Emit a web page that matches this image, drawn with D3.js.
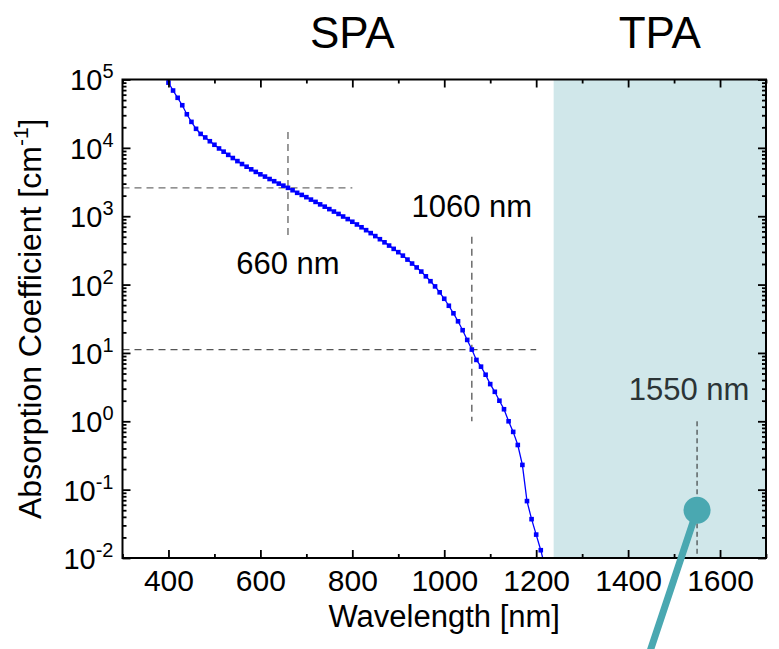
<!DOCTYPE html>
<html>
<head>
<meta charset="utf-8">
<script src="https://cdn.jsdelivr.net/npm/d3@7"></script>
<style>
  body { margin: 0; background: #fff; }
  svg { display: block; font-family: "Liberation Sans", Arial, sans-serif; }
</style>
</head>
<body>
<div id="chart"></div>
<script>
// silicon absorption (nm, cm^-1)
const wavelengths = [
  390, 400, 410, 420, 430, 440, 450, 460, 470, 480, 490,
  500, 510, 520, 530, 540, 550, 560, 570, 580, 590,
  600, 610, 620, 630, 640, 650, 660, 670, 680, 690,
  700, 710, 720, 730, 740, 750, 760, 770, 780, 790,
  800, 810, 820, 830, 840, 850, 860, 870, 880, 890,
  900, 910, 920, 930, 940, 950, 960, 970, 980, 990,
  1000, 1010, 1020, 1030, 1040, 1050, 1060, 1070, 1080, 1090,
  1100, 1110, 1120, 1130, 1140, 1150, 1160, 1170, 1180, 1190,
  1200, 1210, 1220
];
const absorption = [
  1.25e5, 9.0e4, 6.9e4, 5.4e4, 4.2e4, 3.1e4, 2.4e4, 1.9e4, 1.6e4, 1.42e4, 1.25e4,
  1.11e4, 9.8e3, 8.8e3, 7.9e3, 7.1e3, 6.4e3, 5.8e3, 5.3e3, 4.85e3, 4.45e3,
  4.1e3, 3.8e3, 3.5e3, 3.25e3, 3.0e3, 2.8e3, 2.6e3, 2.4e3, 2.2e3, 2.05e3,
  1.9e3, 1.75e3, 1.62e3, 1.49e3, 1.38e3, 1.27e3, 1.17e3, 1.08e3, 990, 908,
  830, 757, 689, 625, 566, 512, 461, 415, 372, 333,
  298, 265, 232, 203, 178, 155, 132, 112, 94, 77,
  62, 49, 38, 29, 21.5, 15.5, 11.2, 7.9, 6.3, 4.8,
  3.5, 2.7, 2.0, 1.5, 1.0, 0.7, 0.45, 0.23, 0.068, 0.037,
  0.022, 0.013, 0.007
];

const xMajorTicks = [400, 600, 800, 1000, 1200, 1400, 1600];
const xMinorTicks = [300, 500, 700, 900, 1100, 1300, 1500, 1700];
const yMajorTicks = [1e-2, 1e-1, 1e0, 1e1, 1e2, 1e3, 1e4, 1e5];

const spaLabel = "SPA", tpaLabel = "TPA";
const tpaStart = 1238;            // start of the shaded TPA band
const probeWavelength = 1550;     // 1550 nm lollipop
const probeValue = 0.05;

const MARGIN = { TOP: 79.5, BOTTOM: 91, LEFT: 122.5, RIGHT: 13 };
const WIDTH = 779 - MARGIN.LEFT - MARGIN.RIGHT,
  HEIGHT = 649 - MARGIN.TOP - MARGIN.BOTTOM;

const data = wavelengths.map((w, i) => ({ w: w, a: absorption[i] }));
const valueAt = (w) => absorption[wavelengths.indexOf(w)];

const svg = d3
  .select("#chart")
  .append("svg")
  .attr("width", 779)
  .attr("height", 649);

const g = svg
  .append("g")
  .attr("transform", `translate(${MARGIN.LEFT}, ${MARGIN.TOP})`);

const x = d3.scaleLinear().domain([300, 1700]).range([0, WIDTH]);
const y = d3.scaleLog().domain([1e-2, 1e5]).range([HEIGHT, 0]);

svg
  .append("defs")
  .append("clipPath")
  .attr("id", "plot-clip")
  .append("rect")
  .attr("width", WIDTH)
  .attr("height", HEIGHT);

// TPA band
g.append("rect")
  .attr("x", x(tpaStart))
  .attr("y", 0)
  .attr("width", WIDTH - x(tpaStart))
  .attr("height", HEIGHT)
  .attr("fill", "#d0e7ea");

/* ------- DASHED GUIDES -------*/
const guides = g.append("g").attr("fill", "none");

// 660 nm
guides
  .append("line")
  .attr("x1", 0)
  .attr("x2", x(800))
  .attr("y1", y(valueAt(660)))
  .attr("y2", y(valueAt(660)))
  .attr("stroke", "#6f6f6f")
  .attr("stroke-width", 1.4)
  .attr("stroke-dasharray", "7,5");
guides
  .append("line")
  .attr("x1", x(660))
  .attr("x2", x(660))
  .attr("y1", y(1.7e4))
  .attr("y2", y(480))
  .attr("stroke", "#6f6f6f")
  .attr("stroke-width", 1.4)
  .attr("stroke-dasharray", "7,5");

// 1060 nm
guides
  .append("line")
  .attr("x1", 0)
  .attr("x2", x(1200))
  .attr("y1", y(valueAt(1060)))
  .attr("y2", y(valueAt(1060)))
  .attr("stroke", "#555")
  .attr("stroke-width", 1.3)
  .attr("stroke-dasharray", "7,5");
guides
  .append("line")
  .attr("x1", x(1060))
  .attr("x2", x(1060))
  .attr("y1", y(500))
  .attr("y2", y(1))
  .attr("stroke", "#555")
  .attr("stroke-width", 1.3)
  .attr("stroke-dasharray", "7,5");

// 1550 nm
guides
  .append("line")
  .attr("x1", x(probeWavelength))
  .attr("x2", x(probeWavelength))
  .attr("y1", y(1))
  .attr("y2", HEIGHT)
  .attr("stroke", "#222")
  .attr("stroke-width", 1)
  .attr("stroke-dasharray", "5,3.5");

/* ------- CURVE -------*/
const curve = g.append("g").attr("clip-path", "url(#plot-clip)");

const line = d3
  .line()
  .x((d) => x(d.w))
  .y((d) => y(d.a));

curve
  .append("path")
  .datum(data)
  .attr("d", line)
  .attr("fill", "none")
  .attr("stroke", "#0000ff")
  .attr("stroke-width", 1.3);

curve
  .selectAll("rect.pt")
  .data(data)
  .enter()
  .append("rect")
  .attr("class", "pt")
  .attr("x", (d) => x(d.w) - 2.3)
  .attr("y", (d) => y(d.a) - 2.3)
  .attr("width", 4.6)
  .attr("height", 4.6)
  .attr("fill", "#0000ff");

/* ------- AXES -------*/
function styleAxis(sel) {
  sel.select(".domain").remove();
  sel.selectAll(".tick line").attr("stroke", "#000").attr("stroke-width", 1.8);
}

const yMinor = y.ticks().filter((v) => yMajorTicks.indexOf(v) < 0);

g.append("g")
  .attr("transform", `translate(0, ${HEIGHT})`)
  .call(d3.axisBottom(x).tickValues(xMinorTicks).tickSize(-4).tickFormat(""))
  .call(styleAxis);

const xAxisG = g
  .append("g")
  .attr("transform", `translate(0, ${HEIGHT})`)
  .call(
    d3
      .axisBottom(x)
      .tickValues(xMajorTicks)
      .tickSize(-8)
      .tickPadding(12)
      .tickFormat(d3.format("d"))
  )
  .call(styleAxis);
xAxisG
  .selectAll(".tick text")
  .attr("font-family", "Liberation Sans, Arial, sans-serif")
  .attr("font-size", 30)
  .attr("fill", "#000");

g.append("g")
  .call(d3.axisTop(x).tickValues(xMinorTicks).tickSize(-4).tickFormat(""))
  .call(styleAxis);
g.append("g")
  .call(d3.axisTop(x).tickValues(xMajorTicks).tickSize(-8).tickFormat(""))
  .call(styleAxis);

g.append("g")
  .call(d3.axisLeft(y).tickValues(yMinor).tickSize(-4).tickFormat(""))
  .call(styleAxis);

const yAxisG = g
  .append("g")
  .call(d3.axisLeft(y).tickValues(yMajorTicks).tickSize(-8).tickPadding(9))
  .call(styleAxis);

yAxisG
  .selectAll(".tick text")
  .text(null)
  .attr("font-family", "Liberation Sans, Arial, sans-serif")
  .attr("font-size", 29)
  .attr("fill", "#000")
  .attr("dy", "0.36em")
  .call((t) => {
    t.append("tspan").text("10");
    t.append("tspan")
      .attr("dy", -12)
      .attr("font-size", 20)
      .text((d) => Math.round(Math.log10(d)));
  });

g.append("g")
  .attr("transform", `translate(${WIDTH}, 0)`)
  .call(d3.axisRight(y).tickValues(yMinor).tickSize(-4).tickFormat(""))
  .call(styleAxis);
g.append("g")
  .attr("transform", `translate(${WIDTH}, 0)`)
  .call(d3.axisRight(y).tickValues(yMajorTicks).tickSize(-8).tickFormat(""))
  .call(styleAxis);

// frame
g.append("rect")
  .attr("width", WIDTH)
  .attr("height", HEIGHT)
  .attr("fill", "none")
  .attr("stroke", "#000")
  .attr("stroke-width", 2);

/* ------- LABELS -------*/
svg
  .append("text")
  .attr("x", MARGIN.LEFT + WIDTH / 2)
  .attr("y", 627)
  .attr("text-anchor", "middle")
  .attr("font-size", 31)
  .text("Wavelength [nm]");

const yLabel = svg
  .append("text")
  .attr("transform", `translate(41, ${MARGIN.TOP + HEIGHT / 2}) rotate(-90)`)
  .attr("text-anchor", "middle")
  .attr("font-size", 32);
yLabel.append("tspan").text("Absorption Coefficient [cm");
yLabel.append("tspan").attr("dy", -13).attr("font-size", 21).text("-1");
yLabel.append("tspan").attr("dy", 13).text("]");

svg
  .append("text")
  .attr("x", MARGIN.LEFT + x(800))
  .attr("y", 48)
  .attr("text-anchor", "middle")
  .attr("font-size", 44)
  .text(spaLabel);

svg
  .append("text")
  .attr("x", MARGIN.LEFT + (x(tpaStart) + WIDTH) / 2)
  .attr("y", 48)
  .attr("text-anchor", "middle")
  .attr("font-size", 44)
  .text(tpaLabel);

g.append("text")
  .attr("x", x(660))
  .attr("y", y(valueAt(660)) + 86)
  .attr("text-anchor", "middle")
  .attr("font-size", 31)
  .text("660 nm");

g.append("text")
  .attr("x", x(1060))
  .attr("y", y(500) - 20)
  .attr("text-anchor", "middle")
  .attr("font-size", 31)
  .text("1060 nm");

g.append("text")
  .attr("x", x(probeWavelength) - 8)
  .attr("y", y(1) - 21)
  .attr("text-anchor", "middle")
  .attr("font-size", 31)
  .attr("fill", "#2b3436")
  .text("1550 nm");

/* ------- 1550 nm LOLLIPOP -------*/
const px = x(probeWavelength),
  py = y(probeValue);
g.append("line")
  .attr("x1", px)
  .attr("y1", py)
  .attr("x2", px - 54)
  .attr("y2", py + 162)
  .attr("stroke", "#4aa8b1")
  .attr("stroke-width", 7);
g.append("circle")
  .attr("cx", px)
  .attr("cy", py)
  .attr("r", 13.5)
  .attr("fill", "#4aa8b1");
</script>
</body>
</html>
